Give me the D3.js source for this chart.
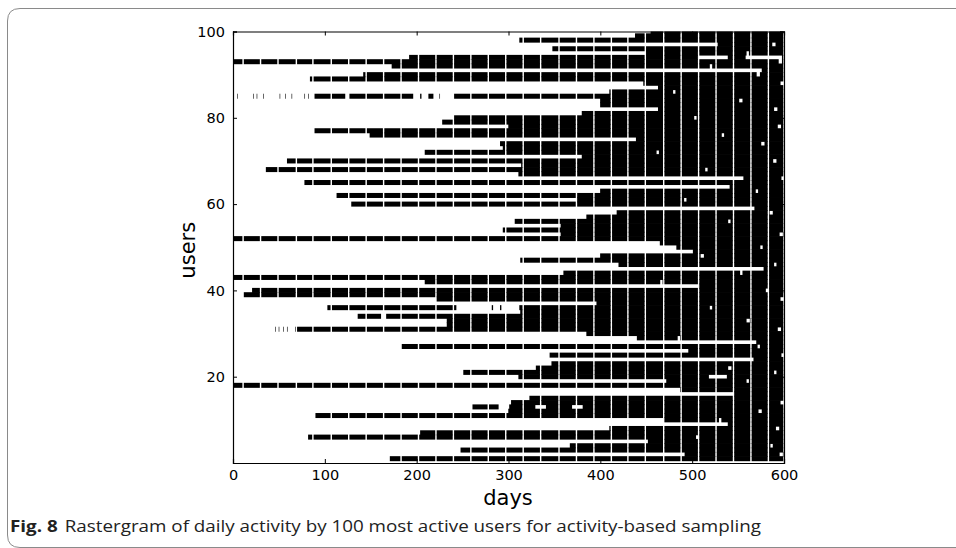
<!DOCTYPE html>
<html><head><meta charset="utf-8">
<script src="https://cdn.jsdelivr.net/npm/d3@7"></script>
<style>body{margin:0;background:#fff}</style>
</head><body>
<svg id="c" width="956" height="548"></svg>
<script>
// ---- data ----
const xTicks = [0, 100, 200, 300, 400, 500, 600];
const yTicks = [20, 40, 60, 80, 100];
const userIds = d3.range(1, 101);
// first active day of each user (user 1 .. user 100)
const startDay = [
  171, 492, 248, 367, 452,  82, 204, 410, 539, 469,   // 1-10
   90, 300, 261, 303, 323, 545, 487,   0, 472, 311,   // 11-20
  251, 330, 347, 567, 345, 496, 184, 570, 440, 385,   // 21-30
   46, 233, 233, 136, 313, 103, 396, 222,  11,  21,   // 31-40
  507, 209,   0, 360, 578, 420, 313, 400, 501, 483,   // 41-50
  465,   0, 357, 294, 357, 307, 385, 418, 568, 129,   // 51-60
  374, 113, 400, 541,  78, 556, 311,  36, 314,  59,   // 61-70
  380, 209, 294, 291, 439, 149,  89, 300, 228, 240,   // 71-80
  380, 463, 400, 400,   5, 410, 463, 447,  84, 142,   // 81-90
  576, 173,   0, 192, 449, 348, 528, 312, 438, 455    // 91-100
];
// days with no recorded activity at all (white vertical lines)
const offDays = [11, 30, 49, 69, 87, 107, 126, 145, 164, 183, 202, 221, 240, 259, 278,
  297, 316, 335, 355, 374, 393, 412, 430, 449, 469, 488, 507, 526, 545, 564, 583];
// inactive stretches of single users
const gapUser = [85, 85, 85, 85, 85, 85, 85, 85, 85, 85, 85, 85, 85, 85,
  94, 94, 36, 36, 36, 20, 13, 13, 13, 34, 31, 31, 31, 31,
  97, 95, 93, 92, 90, 88, 86, 84, 82, 80, 78, 76, 74, 72, 70, 68, 66, 63, 61, 58,
  56, 53, 50, 48, 46, 44, 42, 40, 38, 36, 33, 31, 29, 27, 25, 22, 21, 19, 14, 12,
  10, 8, 6, 4, 2];
const gapFrom = [ 6, 23, 27, 34, 52, 58, 65, 79, 83, 123, 197, 206, 219, 226,
  507, 559, 244, 284, 293, 519, 290, 330, 370, 162, 47, 51, 56, 60,
  588, 560, 595, 520, 571, 597, 480, 552, 590, 503, 594, 533, 576, 462, 589, 515, 598, 570, 492, 585,
  540, 596, 575, 510, 590, 553, 466, 581, 597, 520, 560, 594, 485, 572, 598, 540, 590, 560, 597, 573,
  530, 592, 505, 586, 596];
const gapTo   = [21, 25, 32, 50, 56, 63, 77, 81, 88, 125, 203, 212, 224, 239,
  538, 597, 281, 290, 311, 537, 300, 340, 380, 166, 49, 54, 58, 67,
  590, 561, 597, 521, 573, 599, 481, 554, 592, 504, 596, 534, 578, 463, 591, 516, 599, 571, 493, 587,
  541, 598, 576, 512, 591, 554, 467, 583, 599, 521, 562, 596, 486, 573, 599, 542, 591, 561, 599, 575,
  531, 594, 506, 587, 598];
const lastDay = 599;

// ---- drawing ----
const W = 956, H = 548;
const svg = d3.select("#c");
svg.append("rect").attr("width", W).attr("height", H).attr("fill", "#fff");

svg.append("path")
  .attr("d", "M956,8.5 L20,8.5 Q7.5,8.5 7.5,21 L7.5,535 Q7.5,547.5 20,547.5 L956,547.5")
  .attr("fill", "none").attr("stroke", "#8a8a8a").attr("stroke-width", 1);

const x = d3.scaleLinear().domain([0, 600]).range([233, 784]);
const y = d3.scaleLinear().domain([0, 100]).range([463, 31.5]);
const rowH = y(0) - y(1);

svg.append("clipPath").attr("id", "clip").append("rect")
  .attr("x", x(0)).attr("y", y(100)).attr("width", x(600) - x(0)).attr("height", y(0) - y(100));

const runs = [];
userIds.forEach((u, i) => {
  const off = new Set(offDays);
  gapUser.forEach((gu, k) => { if (gu === u) for (let d = gapFrom[k]; d <= gapTo[k]; d++) off.add(d); });
  let rs = null;
  for (let d = startDay[i]; d <= lastDay + 1; d++) {
    const act = d <= lastDay && !off.has(d);
    if (act && rs === null) rs = d;
    if (!act && rs !== null) { runs.push({u, a: rs, b: d - 1}); rs = null; }
  }
});

svg.append("g").attr("clip-path", "url(#clip)")
  .selectAll("rect").data(runs).join("rect")
  .attr("x", d => x(d.a - 0.5) + 0.25)
  .attr("width", d => Math.max(0.6, x(d.b + 0.5) - x(d.a - 0.5) - 0.5))
  .attr("y", d => y(d.u) - rowH / 2 - 0.35)
  .attr("height", rowH + 0.7)
  .attr("fill", "#000");

const font = "DejaVu Sans, sans-serif";
const axB = svg.append("g").attr("transform", `translate(0,${y(0)})`)
  .call(d3.axisBottom(x).tickValues(xTicks).tickSize(-4).tickPadding(7).tickFormat(d3.format("d")));
const axT = svg.append("g").attr("transform", `translate(0,${y(100)})`)
  .call(d3.axisTop(x).tickValues(xTicks).tickSize(-4).tickFormat(""));
const axL = svg.append("g").attr("transform", `translate(${x(0)},0)`)
  .call(d3.axisLeft(y).tickValues(yTicks).tickSize(-4).tickPadding(8).tickFormat(d3.format("d")));
const axR = svg.append("g").attr("transform", `translate(${x(600)},0)`)
  .call(d3.axisRight(y).tickValues(yTicks).tickSize(-4).tickFormat(""));
[axB, axT, axL, axR].forEach(g => {
  g.select(".domain").attr("stroke", "#000").attr("stroke-width", 1.2);
  g.selectAll(".tick line").attr("stroke", "#000");
  g.selectAll("text").attr("font-family", font).attr("font-size", 14.5).attr("fill", "#000");
});

svg.append("text").attr("x", 508).attr("y", 505).attr("text-anchor", "middle")
  .attr("font-family", font).attr("font-size", 21).text("days");
svg.append("text").attr("transform", `translate(195,${(y(0) + y(100)) / 2 + 3}) rotate(-90)`)
  .attr("text-anchor", "middle").attr("font-family", font).attr("font-size", 21).text("users");

const cap = svg.append("text").attr("x", 10).attr("y", 532)
  .attr("font-family", "Open Sans, sans-serif").attr("font-size", 16).attr("fill", "#222")
  .attr("textLength", 751).attr("lengthAdjust", "spacingAndGlyphs");
cap.append("tspan").attr("font-weight", "bold").text("Fig. 8");
cap.append("tspan").attr("dx", 6).text("Rastergram of daily activity by 100 most active users for activity-based sampling");
</script>
</body></html>
